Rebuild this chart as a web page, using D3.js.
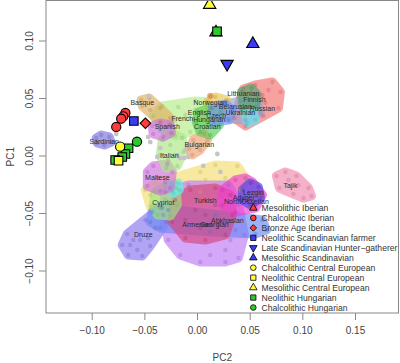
<!DOCTYPE html>
<html><head><meta charset="utf-8">
<script src="https://cdn.jsdelivr.net/npm/d3@7"></script>
<style>body{margin:0;background:#fff}svg{display:block;font-family:"Liberation Sans",Arial,sans-serif}</style>
</head><body><svg id="c" width="400" height="363"></svg>
<script>
// ---- axis ticks ----
const xTicks = [-0.10, -0.05, 0.00, 0.05, 0.10, 0.15];
const yTicks = [-0.10, -0.05, 0.00, 0.05, 0.10];

// ---- modern population samples (PC2, PC1) ----
const yellowPop = [[-0.0491,-0.0300],[-0.0444,-0.0448],[-0.0254,-0.0430],[0.0031,-0.0317],[0.0412,-0.0300],[0.0459,-0.0196],[0.0383,-0.0091],[0.0174,-0.0083],[0.0031,-0.0143],[-0.0206,-0.0230],[-0.0396,-0.0239],[-0.0444,-0.0343],[0.0079,-0.0213],[0.0269,-0.0196]];
const druze = [[-0.0710,-0.0778],[-0.0653,-0.0865],[-0.0520,-0.0874],[-0.0444,-0.0787],[-0.0292,-0.0578],[-0.0273,-0.0474],[-0.0349,-0.0448],[-0.0491,-0.0561],[-0.0663,-0.0683],[-0.0634,-0.0778],[-0.0567,-0.0822],[-0.0539,-0.0735],[-0.0463,-0.0717],[-0.0396,-0.0630],[-0.0605,-0.0735]];
const lavender = [[-0.0301,-0.0317],[-0.0083,-0.0257],[0.0298,-0.0257],[0.0393,-0.0430],[0.0450,-0.0691],[0.0393,-0.0891],[0.0269,-0.0926],[0.0031,-0.0926],[-0.0159,-0.0865],[-0.0273,-0.0735],[-0.0320,-0.0517],[0.0317,-0.0735],[0.0269,-0.0822],[0.0126,-0.0865],[0.0364,-0.0648]];
const blueBand = [[-0.0425,-0.0491],[-0.0330,-0.0457],[0.0174,-0.0517],[0.0621,-0.0561],[0.0659,-0.0648],[0.0554,-0.0683],[0.0126,-0.0665],[-0.0349,-0.0630],[-0.0444,-0.0578]];
const turkish = [[-0.0206,-0.0387],[-0.0064,-0.0300],[0.0174,-0.0283],[0.0317,-0.0343],[0.0336,-0.0517],[0.0269,-0.0691],[0.0079,-0.0735],[-0.0111,-0.0717],[-0.0235,-0.0578],[-0.0016,-0.0474],[0.0079,-0.0517],[0.0174,-0.0430],[-0.0111,-0.0561],[0.0031,-0.0630],[0.0202,-0.0604]];
const cypriot = [[-0.0396,-0.0317],[-0.0301,-0.0265],[-0.0197,-0.0283],[-0.0187,-0.0430],[-0.0254,-0.0526],[-0.0377,-0.0517],[-0.0415,-0.0430],[-0.0301,-0.0387],[-0.0349,-0.0457]];
const cyanSouth = [[-0.0235,-0.0248],[-0.0178,-0.0239],[-0.0168,-0.0300],[-0.0225,-0.0326]];
const maltese = [[-0.0472,-0.0143],[-0.0415,-0.0091],[-0.0282,-0.0074],[-0.0235,-0.0143],[-0.0254,-0.0283],[-0.0349,-0.0309],[-0.0472,-0.0265],[-0.0368,-0.0196],[-0.0301,-0.0230]];
const caucasus = [[0.0240,-0.0300],[0.0364,-0.0213],[0.0526,-0.0230],[0.0621,-0.0343],[0.0554,-0.0457],[0.0364,-0.0491],[0.0240,-0.0430],[0.0459,-0.0196]];
const indigo = [[0.0431,-0.0300],[0.0507,-0.0239],[0.0583,-0.0274],[0.0602,-0.0370],[0.0507,-0.0430],[0.0431,-0.0387]];
const tajik = [[0.0754,-0.0178],[0.0839,-0.0143],[0.0944,-0.0178],[0.1058,-0.0283],[0.1087,-0.0352],[0.1011,-0.0370],[0.0915,-0.0335],[0.0782,-0.0283],[0.0868,-0.0213],[0.0963,-0.0257]];
const sardinian = [[-0.0957,0.0152],[-0.0910,0.0178],[-0.0834,0.0161],[-0.0815,0.0117],[-0.0881,0.0091],[-0.0948,0.0109]];
const french = [[-0.0415,0.0343],[-0.0330,0.0430],[-0.0178,0.0422],[-0.0016,0.0474],[0.0098,0.0465],[0.0126,0.0378],[0.0079,0.0265],[-0.0064,0.0204],[-0.0206,0.0170],[-0.0330,0.0222],[-0.0111,0.0352],[-0.0016,0.0396],[-0.0206,0.0309]];
const italian = [[-0.0330,0.0135],[-0.0235,0.0196],[-0.0140,0.0152],[-0.0130,0.0030],[-0.0187,-0.0091],[-0.0292,-0.0109],[-0.0349,0.0004],[-0.0254,0.0091],[-0.0206,0.0004],[-0.0273,-0.0039]];
const basque = [[-0.0529,0.0483],[-0.0453,0.0500],[-0.0349,0.0413],[-0.0254,0.0326],[-0.0263,0.0274],[-0.0349,0.0291],[-0.0444,0.0396],[-0.0520,0.0430]];
const spanish = [[-0.0425,0.0257],[-0.0349,0.0283],[-0.0254,0.0265],[-0.0244,0.0196],[-0.0320,0.0161],[-0.0415,0.0187]];
const bulgarian = [[-0.0035,0.0135],[0.0069,0.0187],[0.0098,0.0135],[0.0031,0.0048],[-0.0045,0.0004],[-0.0073,0.0057]];
const russian = [[0.0355,0.0326],[0.0440,0.0578],[0.0554,0.0613],[0.0716,0.0639],[0.0792,0.0552],[0.0773,0.0413],[0.0630,0.0343],[0.0459,0.0257],[0.0621,0.0526],[0.0678,0.0570],[0.0649,0.0457]];
const eastSlav = [[0.0240,0.0439],[0.0412,0.0474],[0.0583,0.0448],[0.0602,0.0370],[0.0459,0.0309],[0.0298,0.0317]];
const baltic = [[0.0421,0.0552],[0.0516,0.0587],[0.0573,0.0526],[0.0554,0.0422],[0.0440,0.0413]];
const cyanNorth = [[0.0459,0.0361],[0.0535,0.0370],[0.0554,0.0309],[0.0478,0.0283]];
const nordic = [[0.0098,0.0465],[0.0174,0.0509],[0.0279,0.0483],[0.0269,0.0413],[0.0126,0.0396]];
const central = [[0.0012,0.0378],[0.0126,0.0413],[0.0222,0.0378],[0.0212,0.0265],[0.0126,0.0178],[0.0031,0.0204],[-0.0007,0.0291]];
const czech = [[0.0145,0.0413],[0.0269,0.0448],[0.0336,0.0396],[0.0298,0.0309],[0.0164,0.0291]];
const orangeDot = [[0.0126,0.0517]];

const blobData = [yellowPop, druze, lavender, blueBand, turkish, cypriot, cyanSouth, maltese, caucasus, indigo, tajik,
  sardinian, french, italian, basque, spanish, bulgarian, russian, eastSlav, baltic, cyanNorth, nordic, central, czech, orangeDot];
const blobColors = ["#f3e070","#8a76f0","#c07af5","#6a8af5","#d8457e","#9ee880","#5ff0f0","#d070e0","#f040d0","#4a45e0","#f088b0",
  "#7a73e0","#b5ee8a","#aee886","#e0b060","#d070e0","#f0a070","#f57272","#9aa5d0","#4aa86f","#60e8f5","#e8c850","#55d055","#6f95ff","#e09050"];

// unassigned individuals (grey)
const greyPts = [[-0.0463,0.0517],[-0.0463,0.0161],[-0.0444,0.0117],[-0.0349,0.0065],[-0.0377,-0.0013],[-0.0121,-0.0022],[-0.0083,-0.0013],[-0.0111,0.0048],[-0.0187,0.0004],[-0.0159,-0.0022],[0.0060,-0.0091],[0.0193,0.0013],[0.0222,-0.0143],[-0.0767,0.0187]];

// population labels and their mean positions
const labelNames = ["Sardinian","Basque","Spanish","French","Italian","Bulgarian","Maltese","Cypriot","Druze","Turkish","Armenian","Georgian","Abkhasian","Tajik","Adygei","Lezgin","NorthOssetian","Lithuanian","Finnish","Russian","Belarusian","Ukrainian","Norwegian","English","Czech","Hungarian","Croatian"];
const labelPos = [[-0.0881,0.0126],[-0.0520,0.0465],[-0.0282,0.0248],[-0.0140,0.0326],[-0.0263,-0.0004],[0.0022,0.0100],[-0.0377,-0.0187],[-0.0320,-0.0413],[-0.0510,-0.0683],[0.0079,-0.0387],[0.0003,-0.0604],[0.0164,-0.0604],[0.0288,-0.0561],[0.0887,-0.0265],[0.0440,-0.0361],[0.0535,-0.0326],[0.0469,-0.0404],[0.0440,0.0543],[0.0545,0.0483],[0.0621,0.0413],[0.0364,0.0430],[0.0412,0.0370],[0.0126,0.0457],[0.0022,0.0378],[0.0183,0.0352],[0.0117,0.0317],[0.0098,0.0248]];

// ---- ancient samples ----
const ancientNames = ["Mesolithic Iberian","Chalcolithic Iberian","Bronze Age Iberian","Neolithic Scandinavian farmer","Late Scandinavian Hunter\u2212gatherer","Mesolithic Scandinavian","Chalcolithic Central European","Neolithic Central European","Mesolithic Central European","Neolithic Hungarian","Chalcolithic Hungarian"];
const ancientPoints = [
  [[0.0180,0.1070]],
  [[-0.0680,0.0370],[-0.0700,0.0340],[-0.0720,0.0320],[-0.0767,0.0248]],
  [[-0.0490,0.0280]],
  [[-0.0600,0.0300]],
  [[0.0285,0.0796]],
  [[0.0530,0.0970]],
  [[-0.0730,0.0077]],
  [[-0.0745,-0.0045]],
  [[0.0120,0.1310]],
  [[-0.0650,0.0063],[-0.0680,0.0013],[-0.0710,-0.0013],[-0.0777,-0.0039],[0.0190,0.1080]],
  [[-0.0570,0.0120]]
];
const ancientShapes = ["tri","circle","diamond","square","tridown","tri","circle","square","tri","square","circle"];
const ancientColors = ["#ff3b3b","#ff3b3b","#ff3b3b","#3b3bf5","#3b3bf5","#3b3bf5","#ffff3b","#ffff3b","#ffff3b","#2ec72e","#2ec72e"];
// drawing order of ancient groups (later drawn on top)
const drawOrder = [0,9,1,2,3,4,5,6,10,7,8];

// ---- chart ----
const svg = d3.select("#c");
const L = 46, R = 398.5, T = 0.5, B = 313;
const x = d3.scaleLinear().domain([-0.10, 0.15]).range([91.7, 355]);
const y = d3.scaleLinear().domain([-0.10, 0.10]).range([270.5, 40.5]);

const clip = svg.append("defs").append("clipPath").attr("id","clp");
clip.append("rect").attr("x",L).attr("y",T).attr("width",R-L).attr("height",B-T);
const plot = svg.append("g").attr("clip-path","url(#clp)");

// blobs
blobData.forEach((pts,i)=>{
  const col = blobColors[i];
  const P = pts.map(d=>[x(d[0]), y(d[1])]);
  const g = plot.append("g").attr("opacity",0.66);
  if (P.length >= 3) {
    const h = d3.polygonHull(P);
    g.append("path").attr("d","M"+h.join("L")+"Z")
      .attr("fill",col).attr("stroke",col).attr("stroke-width",9).attr("stroke-linejoin","round");
  } else {
    P.forEach(p=>g.append("circle").attr("cx",p[0]).attr("cy",p[1]).attr("r",3.2).attr("fill",col));
  }
});
// sample dots
blobData.forEach((pts,i)=>{
  const c = d3.color(blobColors[i]).darker(0.7);
  plot.append("g").selectAll("circle").data(pts).join("circle")
    .attr("cx",d=>x(d[0])).attr("cy",d=>y(d[1])).attr("r",2.2)
    .attr("fill",c).attr("opacity",0.33);
});
plot.append("g").selectAll("circle").data(greyPts).join("circle")
  .attr("cx",d=>x(d[0])).attr("cy",d=>y(d[1])).attr("r",2.4).attr("fill","#c4c4c4");

// labels
plot.append("g").selectAll("text").data(labelNames).join("text")
  .attr("x",(d,i)=>x(labelPos[i][0])).attr("y",(d,i)=>y(labelPos[i][1]))
  .attr("text-anchor","middle").attr("dominant-baseline","central")
  .attr("font-size",7).attr("fill","#2a2a2a").text(d=>d);

// symbol helper
function sym(shape, big){
  const s = big ? 1 : 0.38;
  switch(shape){
    case "tri": return {d:d3.symbol(d3.symbolTriangle, 66*s)(), rot:0};
    case "tridown": return {d:d3.symbol(d3.symbolTriangle, 66*s)(), rot:180};
    case "circle": return {d:d3.symbol(d3.symbolCircle, 66*s)(), rot:0};
    case "square": return {d:d3.symbol(d3.symbolSquare, 74*s)(), rot:0};
    case "diamond": return {d:d3.symbol(d3.symbolSquare, 56*s)(), rot:45};
  }
}
const ga = plot.append("g");
drawOrder.forEach(k=>{
  const sh = sym(ancientShapes[k], true);
  ancientPoints[k].forEach(p=>{
    ga.append("path").attr("d",sh.d)
      .attr("transform",`translate(${x(p[0])},${y(p[1])}) rotate(${sh.rot})`)
      .attr("fill",ancientColors[k]).attr("stroke","#000").attr("stroke-width",1.1);
  });
});

// legend
const lg = svg.append("g");
ancientNames.forEach((n,i)=>{
  const yy = 208 + i*9.95;
  const sh = sym(ancientShapes[i], false);
  lg.append("path").attr("d",sh.d).attr("transform",`translate(253.3,${yy}) rotate(${sh.rot})`)
    .attr("fill",ancientColors[i]).attr("stroke","#000").attr("stroke-width",0.8);
  lg.append("text").attr("x",261.5).attr("y",yy).attr("dominant-baseline","central")
    .attr("font-size",8.6).attr("fill","#333").text(n);
});

// frame
svg.append("rect").attr("x",L).attr("y",T).attr("width",R-L).attr("height",B-T)
  .attr("fill","none").attr("stroke","#888").attr("stroke-width",1);

// axes
const xa = svg.append("g").attr("transform",`translate(0,${B})`)
  .call(d3.axisBottom(x).tickValues(xTicks).tickFormat(d3.format(".2f")).tickSize(7).tickPadding(10));
const ya = svg.append("g").attr("transform",`translate(${L},0)`)
  .call(d3.axisLeft(y).tickValues(yTicks).tickFormat(d3.format(".2f")).tickSize(7).tickPadding(5));
[xa,ya].forEach(a=>{
  a.select(".domain").remove();
  a.selectAll("line").attr("stroke","#888");
  a.selectAll("text").attr("fill","#444").attr("font-size",10).attr("font-family","Liberation Sans, Arial, sans-serif");
});
ya.selectAll("text").each(function(){
  d3.select(this).attr("x",null).attr("dy",null).attr("text-anchor","middle").attr("dominant-baseline","central")
    .attr("transform","translate(-17,0) rotate(-90)");
});
xa.selectAll("text").attr("dy",null).attr("y",17).attr("dominant-baseline","central");

svg.append("text").attr("x",(L+R)/2).attr("y",357).attr("text-anchor","middle").attr("dominant-baseline","central")
  .attr("font-size",10).attr("fill","#444").text("PC2");
svg.append("text").attr("transform",`translate(10,${(T+B)/2}) rotate(-90)`).attr("text-anchor","middle").attr("dominant-baseline","central")
  .attr("font-size",10).attr("fill","#444").text("PC1");
</script></body></html>
